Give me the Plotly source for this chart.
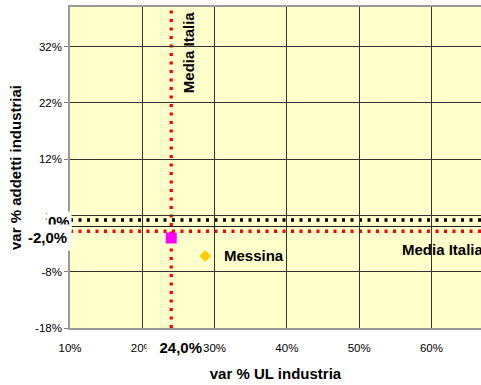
import plotly.graph_objects as go

# Axis ticks (percent values)
x_ticks = [10, 20, 30, 40, 50, 60]
y_ticks = [-18, -8, 2, 12, 22, 32]

# Province point
prov_names = ["Messina"]
prov_ul = [28.7]        # var % UL industria
prov_addetti = [-5.2]   # var % addetti industriali

# National averages
media_ul = 24.0
media_addetti = -2.0
zero_ref = 0.0

FONT = "Arial, Liberation Sans, sans-serif"
DOT = "3px,5.5px"

fig = go.Figure()

fig.add_trace(go.Scatter(
    x=prov_ul, y=prov_addetti, mode="markers",
    marker=dict(symbol="diamond", size=9, color="#FFCC00", line=dict(width=0)),
    name=prov_names[0], showlegend=False, hoverinfo="skip",
))
fig.add_trace(go.Scatter(
    x=[media_ul], y=[media_addetti], mode="markers",
    marker=dict(symbol="square", size=11, color="#FF00FF", line=dict(width=0)),
    name="Media Italia", showlegend=False, hoverinfo="skip",
))
# invisible trace to activate the reference axis for the horizontal lines
fig.add_trace(go.Scatter(x=[media_ul], y=[zero_ref], yaxis="y2", mode="markers",
                         marker=dict(opacity=0), showlegend=False, hoverinfo="skip"))

shapes = [
    dict(type="line", xref="x", yref="paper", x0=media_ul, x1=media_ul, y0=0, y1=1,
         line=dict(color="#FF0000", width=3.3, dash=DOT), layer="between"),
    dict(type="line", xref="paper", yref="y2", x0=0, x1=1, y0=zero_ref, y1=zero_ref,
         line=dict(color="#000000", width=3.3, dash=DOT), layer="between"),
    dict(type="line", xref="paper", yref="y2", x0=0, x1=1, y0=media_addetti, y1=media_addetti,
         line=dict(color="#FF0000", width=3.3, dash=DOT), layer="between"),
]

bold = dict(family=FONT, size=15, color="#000000")
annotations = [
    dict(text="<b>Media Italia</b>", x=26.3, y=31.0, xref="x", yref="y", textangle=-90,
         showarrow=False, font=bold, xanchor="center", yanchor="middle"),
    dict(text="<b>Media Italia</b>", x=55.6, y=-4.0, xref="x", yref="y",
         showarrow=False, font=bold, xanchor="left", yanchor="middle"),
    dict(text="<b>Messina</b>", x=prov_ul[0], y=prov_addetti[0], xref="x", yref="y", xshift=17,
         showarrow=False, font=bold, xanchor="left", yanchor="middle"),
    dict(text="<b>0%</b>", x=0, y=zero_ref, xref="paper", yref="y2", xshift=2, yshift=-2,
         showarrow=False, font=bold, xanchor="right", yanchor="middle",
         bgcolor="#FFFFFF", borderpad=1),
    dict(text="<b>-2,0%</b>", x=0, y=media_addetti, xref="paper", yref="y", xshift=2,
         showarrow=False, font=bold, xanchor="right", yanchor="middle",
         bgcolor="#FFFFFF", borderpad=4),
    dict(text="&nbsp;&nbsp;&nbsp;<b>24,0%</b>", x=media_ul, y=0, xref="x", yref="paper",
         xshift=32, yshift=-19,
         showarrow=False, font=bold, xanchor="right", yanchor="middle",
         bgcolor="#FFFFFF", borderpad=0),
]

fig.update_layout(
    width=481, height=385,
    margin=dict(l=70, r=0, t=7, b=57, autoexpand=False),
    paper_bgcolor="#FFFFFF", plot_bgcolor="#FFFFCC",
    showlegend=False,
    shapes=shapes, annotations=annotations,
    xaxis=dict(
        range=[10, 66.85], tickvals=x_ticks, ticktext=[f"{v}%" for v in x_ticks],
        showgrid=True, gridcolor="#333333", gridwidth=1,
        showline=True, linecolor="#9a9a9a", linewidth=1.5, mirror=True,
        ticks="", ticklabelstandoff=8,
        tickfont=dict(family=FONT, size=11.5, color="#000000"),
        zeroline=False, fixedrange=True,
        title=dict(text="<b>var % UL industria</b>", font=bold, standoff=16),
    ),
    yaxis=dict(
        range=[-18, 39.06], tickvals=y_ticks, ticktext=[f"{v}%" for v in y_ticks],
        showgrid=True, gridcolor="#333333", gridwidth=1,
        showline=True, linecolor="#9a9a9a", linewidth=1.5, mirror=True,
        ticks="outside", ticklen=4, tickcolor="#808080",
        tickfont=dict(family=FONT, size=11.5, color="#000000"),
        zeroline=True, zerolinecolor="#222222", zerolinewidth=1, fixedrange=True,
        title=dict(text="<b>var % addetti industriai</b>", font=bold, standoff=10),
    ),
    yaxis2=dict(range=[-19.2, 37.86], overlaying="y", visible=False, fixedrange=True),
)

fig.write_html("out.html")
